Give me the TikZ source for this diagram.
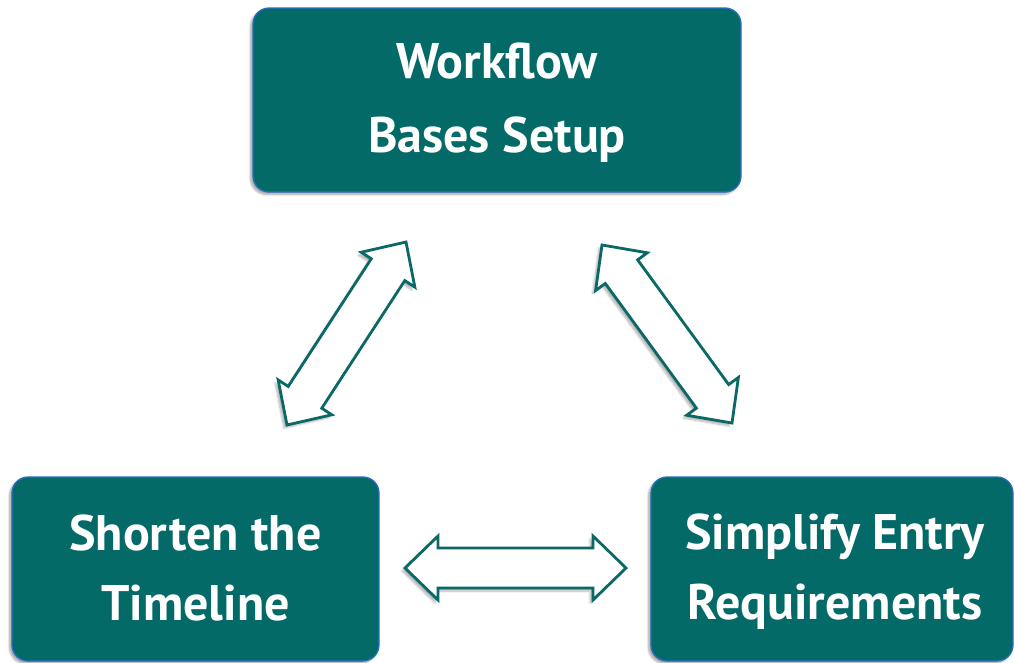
\documentclass[tikz,border=0pt]{standalone}
\usepackage{fontspec}
\setmainfont{PT Sans}
\usetikzlibrary{calc,shadows.blur}
\definecolor{tealfill}{RGB}{3,106,104}
\definecolor{boxline}{RGB}{40,110,190}
\definecolor{arrline}{RGB}{10,104,102}
\tikzset{
  box/.style={draw=boxline, line width=1.3pt, fill=tealfill, rounded corners=16pt,
    minimum height=184pt, inner sep=0pt,
    blur shadow={shadow xshift=-2.5pt, shadow yshift=-2.5pt, shadow blur steps=6, shadow opacity=35}},
  boxtext/.style={text=white, font=\bfseries\fontsize{50}{70}\selectfont, align=center},
  blockarrow/.style={draw=arrline, line width=2.8pt, fill=white, line join=miter,
    blur shadow={shadow xshift=-3pt, shadow yshift=-3pt, shadow blur steps=6, shadow opacity=30}}
}
\newcommand\dblarrow[2]{%
  \path[blockarrow] (#1)
   -- ($(#1)!33pt!(#2)!32pt!90:(#2)$)
   -- ($(#1)!33pt!(#2)!20pt!90:(#2)$)
   -- ($(#2)!33pt!(#1)!20pt!-90:(#1)$)
   -- ($(#2)!33pt!(#1)!32pt!-90:(#1)$)
   -- (#2)
   -- ($(#2)!33pt!(#1)!32pt!90:(#1)$)
   -- ($(#2)!33pt!(#1)!20pt!90:(#1)$)
   -- ($(#1)!33pt!(#2)!20pt!-90:(#2)$)
   -- ($(#1)!33pt!(#2)!32pt!-90:(#2)$)
   -- cycle;}
\begin{document}
\begin{tikzpicture}[x=1pt,y=-1pt]
\useasboundingbox (0,0) rectangle (1014,662);
\node[box, minimum width=488pt] (top) at (497,100) {};
\node[box, minimum width=367pt] (left) at (195.5,569) {};
\node[box, minimum width=362pt] (right) at (832,569) {};
\node[boxtext, font=\bfseries\fontsize{50}{74}\selectfont] (toptext) at ([yshift=-3pt]top.center) {Workflow\\Bases Setup};
\node[boxtext] (lefttext) at ([yshift=1pt]left.center) {Shorten the\\Timeline};
\node[boxtext] (righttext) at ([xshift=3pt,yshift=-3pt]right.center) {Simplify Entry\\Requirements};
\coordinate (la) at (287,425);
\coordinate (lb) at (406,242);
\coordinate (ra) at (602,245);
\coordinate (rb) at (732,423);
\coordinate (ha) at (405,568);
\coordinate (hb) at (626,568);
\dblarrow{la}{lb}
\dblarrow{ra}{rb}
\dblarrow{ha}{hb}
\end{tikzpicture}
\end{document}
